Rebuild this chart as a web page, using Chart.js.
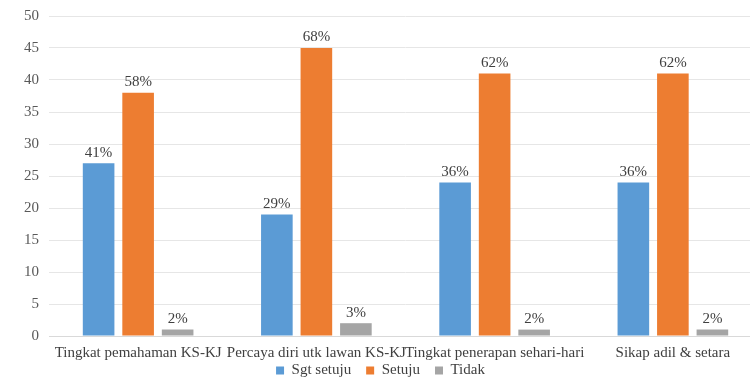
<!DOCTYPE html>
<html>
<head>
<meta charset="utf-8">
<script src="https://cdn.jsdelivr.net/npm/chart.js@4"></script>
<style>
  html, body { margin: 0; padding: 0; background: #fff; overflow: hidden; }
  #wrap { width: 766px; height: 382px; }
</style>
</head>
<body>
<div id="wrap"><canvas id="survey" width="766" height="382"></canvas></div>
<script>
const categories = [
    'Tingkat pemahaman KS-KJ',
    'Percaya diri utk lawan KS-KJ',
    'Tingkat penerapan sehari-hari',
    'Sikap adil & setara'
];
const sgtSetuju = [27, 19, 24, 24];
const setuju = [38, 45, 41, 41];
const tidak = [1, 2, 1, 1];
const yTicks = [0, 5, 10, 15, 20, 25, 30, 35, 40, 45, 50];

const serif = "'Liberation Serif', serif";
Chart.defaults.font.family = serif;
Chart.defaults.font.size = 15;
Chart.defaults.color = '#404040';

// respondents per category, used for the percentage labels
const totals = categories.map((c, i) => sgtSetuju[i] + setuju[i] + tidak[i]);

// writes the share of each bar above it
const percentLabels = {
    id: 'percentLabels',
    afterDatasetsDraw(chart) {
        const ctx = chart.ctx;
        ctx.save();
        ctx.font = '15px ' + serif;
        ctx.fillStyle = '#404040';
        ctx.textAlign = 'center';
        ctx.textBaseline = 'bottom';
        chart.data.datasets.forEach((ds, d) => {
            chart.getDatasetMeta(d).data.forEach((bar, i) => {
                const pct = Math.round(ds.data[i] / totals[i] * 100);
                ctx.fillText(pct + '%', bar.x, bar.y - 3);
            });
        });
        ctx.restore();
    }
};

function drawChart() {
    var ctx = document.getElementById('survey').getContext('2d');
    return new Chart(ctx, {
        type: 'bar',
        data: {
            labels: categories,
            datasets: [
                { label: 'Sgt setuju', data: sgtSetuju, backgroundColor: '#5B9BD5' },
                { label: 'Setuju', data: setuju, backgroundColor: '#ED7D31' },
                { label: 'Tidak', data: tidak, backgroundColor: '#A5A5A5' }
            ]
        },
        options: {
            responsive: false,
            maintainAspectRatio: false,
            animation: false,
            datasets: {
                bar: { barPercentage: 0.8, categoryPercentage: 0.665 }
            },
            layout: { padding: { left: 14, right: 4, top: 0, bottom: -6 } },
            scales: {
                x: {
                    grid: { display: false, drawTicks: false },
                    border: { color: '#D9D9D9' },
                    ticks: { color: '#404040', font: { size: 15 }, padding: 8, maxRotation: 0, autoSkip: false },
                    // tighten the gap between the category names and the legend
                    afterFit(scale) { scale.height -= 7; }
                },
                y: {
                    min: 0,
                    max: 50,
                    afterBuildTicks(scale) { scale.ticks = yTicks.map(v => ({ value: v })); },
                    grid: { color: '#E6E6E6', drawTicks: false },
                    border: { display: false },
                    ticks: { color: '#595959', font: { size: 15, lineHeight: 0.8 }, padding: 10 }
                }
            },
            plugins: {
                legend: {
                    position: 'bottom',
                    labels: {
                        color: '#404040',
                        font: { size: 15, lineHeight: 1 },
                        boxWidth: 8,
                        boxHeight: 8,
                        padding: 0,
                        // trailing spaces give the items room without growing the legend's height
                        generateLabels(chart) {
                            return Chart.defaults.plugins.legend.labels.generateLabels(chart)
                                .map(item => Object.assign(item, { text: item.text + '    ' }));
                        }
                    }
                },
                tooltip: { enabled: false }
            }
        },
        plugins: [percentLabels]
    });
}

document.fonts.load('15px "Liberation Serif"').then(drawChart, drawChart);
</script>
</body>
</html>
